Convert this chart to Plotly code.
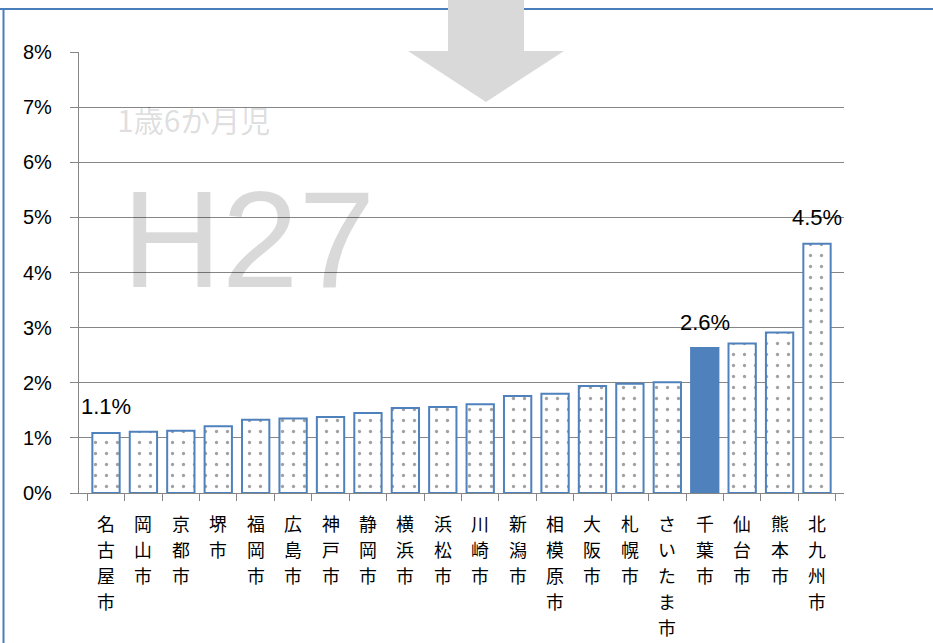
import plotly.graph_objects as go

cities = ["名古屋市", "岡山市", "京都市", "堺市", "福岡市", "広島市", "神戸市", "静岡市",
          "横浜市", "浜松市", "川崎市", "新潟市", "相模原市", "大阪市", "札幌市", "さいたま市",
          "千葉市", "仙台市", "熊本市", "北九州市"]
values = [0.0109, 0.0111, 0.0113, 0.0121, 0.0133, 0.0135, 0.0138, 0.0145,
          0.0154, 0.0156, 0.0161, 0.0176, 0.0180, 0.0194, 0.0198, 0.0201,
          0.0263, 0.0271, 0.0291, 0.0452]
highlight = "千葉市"
labeled = ["名古屋市", "千葉市", "北九州市"]
y_ticks = [0, 0.01, 0.02, 0.03, 0.04, 0.05, 0.06, 0.07, 0.08]

BLUE = "#4F81BD"
GRID = "#868686"
LIGHT = "rgba(0,0,0,0.15)"

W, H = 933, 643
L, R, T, B = 79, 89, 52, 150
pw, ph = W - L - R, H - T - B


def px(x):
    return (x - L) / pw


def py(y):
    return (H - B - y) / ph


shapes_fg = ["" if c == highlight else "." for c in cities]
fig = go.Figure()
fig.add_trace(go.Bar(
    x=cities, y=values,
    marker=dict(
        color=["white" if c != highlight else BLUE for c in cities],
        line=dict(color=BLUE, width=2),
        pattern=dict(shape=shapes_fg, fgcolor=BLUE, bgcolor="white",
                     size=11, solidity=0.07),
    ),
    hoverinfo="skip",
))

annotations = []
for c, v in zip(cities, values):
    if c in labeled:
        annotations.append(dict(x=c, y=v, xref="x", yref="y", text=f"{v:.1%}",
                                showarrow=False, yshift=26,
                                font=dict(size=22, color="black", family="Liberation Sans")))

# vertical (stacked) category labels, one character per line
CH_FONT = 17.9
CH_STEP = 26
for c in cities:
    for k, ch in enumerate(c):
        annotations.append(dict(x=c, y=0, xref="x", yref="paper", text=ch,
                                showarrow=False, xanchor="center", yanchor="middle",
                                yshift=-30 - CH_STEP * k,
                                font=dict(size=CH_FONT, color="black",
                                          family="Noto Sans CJK JP")))

annotations.append(dict(x=px(115), y=py(119), xref="paper", yref="paper", xanchor="left",
                        yanchor="middle", text="1歳6か月児", showarrow=False,
                        font=dict(size=30, color=LIGHT, family="Noto Sans CJK JP")))
annotations.append(dict(x=px(120), y=py(239), xref="paper", yref="paper", xanchor="left",
                        yanchor="middle", text="H27", showarrow=False,
                        font=dict(size=138, color=LIGHT, family="Liberation Sans")))

# down arrow decoration
arrow_pts = [(448, 0), (524, 0), (524, 51), (564, 51), (486, 102), (408, 51), (448, 51)]
path = "M " + " L ".join(f"{px(x)} {py(y)}" for x, y in arrow_pts) + " Z"
shapes = [
    dict(type="line", xref="paper", yref="paper", x0=px(0), x1=px(W), y0=py(9), y1=py(9),
         line=dict(color="#4A7EBB", width=2), layer="below"),
    dict(type="line", xref="paper", yref="paper", x0=px(3.5), x1=px(3.5), y0=py(9), y1=py(H),
         line=dict(color="#4A7EBB", width=2), layer="below"),
    dict(type="path", path=path, xref="paper", yref="paper", fillcolor="#D9D9D9",
         line=dict(width=0), layer="above"),
]

fig.update_layout(
    width=W, height=H,
    margin=dict(l=L, r=R, t=T, b=B, pad=0),
    paper_bgcolor="white", plot_bgcolor="white",
    showlegend=False,
    bargap=0.27,
    annotations=annotations,
    shapes=shapes,
    xaxis=dict(
        type="category",
        tickmode="array",
        tickvals=cities,
        ticktext=["" for c in cities],
        tickson="boundaries",
        ticks="outside", ticklen=7, tickcolor=GRID, tickwidth=1.3,
        showline=True, linecolor=GRID, linewidth=1.3,
        showgrid=False,
    ),
    yaxis=dict(
        range=[0, 0.08],
        tickmode="array",
        tickvals=y_ticks,
        tickformat=".0%",
        ticks="outside", ticklen=8, tickcolor=GRID, tickwidth=1.3,
        showline=True, linecolor=GRID, linewidth=1.3,
        showgrid=True, gridcolor=GRID, gridwidth=1.3,
        zeroline=False,
        ticklabelstandoff=14,
        tickfont=dict(size=20, color="black", family="Liberation Sans"),
    ),
)

fig.write_html("out.html", config={"displayModeBar": False},
               post_script="document.body.style.margin='0';document.body.style.overflow='hidden';")
